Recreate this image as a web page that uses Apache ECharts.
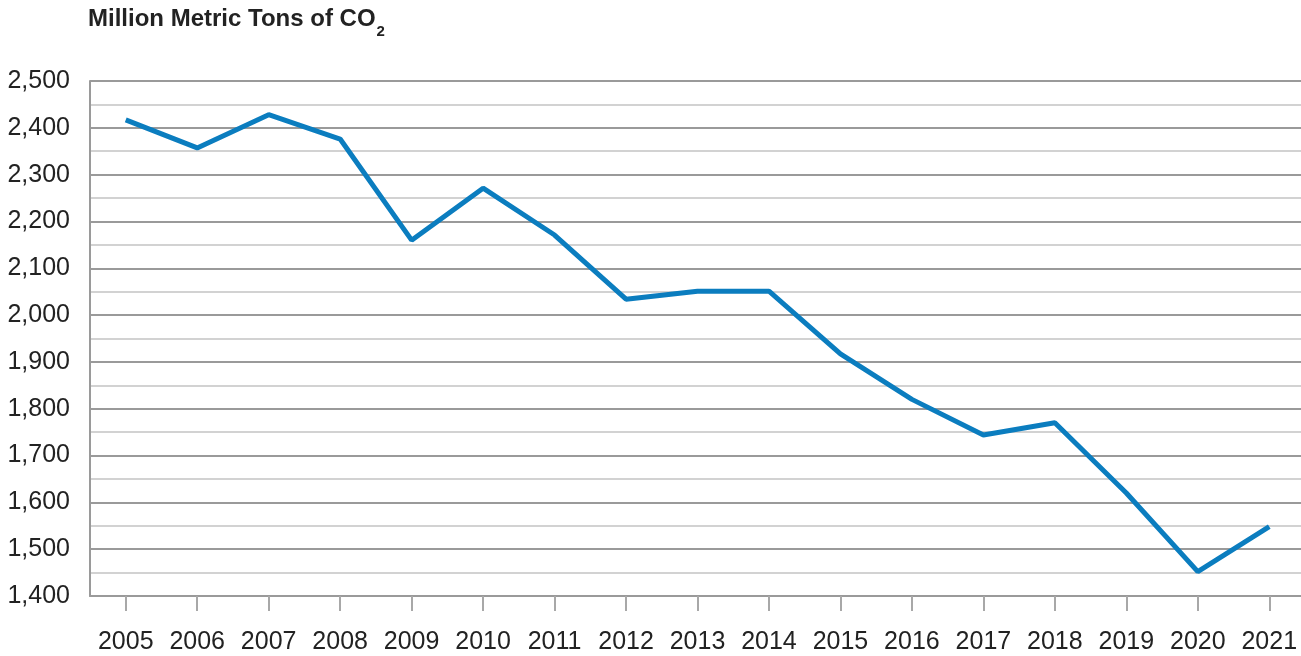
<!DOCTYPE html>
<html>
<head>
<meta charset="utf-8">
<script src="https://cdn.jsdelivr.net/npm/echarts@6/dist/echarts.min.js"></script>
<style>
  html, body { margin: 0; padding: 0; background: #fff; }
  #main { width: 1301px; height: 656px; }
</style>
</head>
<body>
<div id="main"></div>
<script>
// 数据
var years = ['2005', '2006', '2007', '2008', '2009', '2010', '2011', '2012', '2013',
  '2014', '2015', '2016', '2017', '2018', '2019', '2020', '2021']
var emissions = [2417, 2357, 2428, 2376, 2160, 2271, 2171, 2034, 2051,
  2051, 1917, 1820, 1744, 1770, 1620, 1452, 1548]
var yMin = 1400
var yMax = 2500
var yStep = 100

var font = '"Liberation Sans", Arial, sans-serif'

var myChart = echarts.init(document.getElementById('main'))

var option = {
  animation: false,
  title: {
    text: '{a|Million Metric Tons of CO}{b|2}',
    left: 88,
    top: 7,
    padding: 0,
    textStyle: {
      rich: {
        a: { fontFamily: font, fontWeight: 'bold', fontSize: 24, lineHeight: 24, color: '#222', verticalAlign: 'top' },
        b: { fontFamily: font, fontWeight: 'bold', fontSize: 15, lineHeight: 15, color: '#222', verticalAlign: 'top', padding: [17, 0, 0, 1] }
      }
    }
  },
  grid: {
    left: 90,
    top: 81,
    width: 1215,
    height: 515,
    outerBoundsMode: 'none'
  },
  xAxis: {
    type: 'category',
    data: years,
    boundaryGap: true,
    axisLine: { show: true, lineStyle: { color: '#9a9a9a', width: 2 } },
    axisTick: { show: true, alignWithLabel: true, length: 15, lineStyle: { color: '#a8a8a8', width: 2 } },
    axisLabel: { interval: 0, margin: 34, fontFamily: font, fontSize: 25, color: '#222' },
    splitLine: { show: false }
  },
  yAxis: {
    type: 'value',
    min: yMin,
    max: yMax,
    interval: yStep,
    axisLine: { show: true, lineStyle: { color: '#9a9a9a', width: 2 } },
    axisTick: { show: false },
    axisLabel: {
      margin: 20,
      fontFamily: font,
      fontSize: 25,
      color: '#222',
      formatter: function (v) { return v.toLocaleString('en-US') }
    },
    splitLine: { show: true, lineStyle: { color: '#9a9a9a', width: 2 } },
    minorTick: { show: false, splitNumber: 2 },
    minorSplitLine: { show: true, lineStyle: { color: '#c4c4c4', width: 1.5 } }
  },
  series: [
    {
      name: 'CO2',
      type: 'line',
      data: emissions,
      symbol: 'none',
      lineStyle: { color: '#0b7dbf', width: 5 },
      z: 5
    }
  ]
}

myChart.setOption(option)
</script>
</body>
</html>
